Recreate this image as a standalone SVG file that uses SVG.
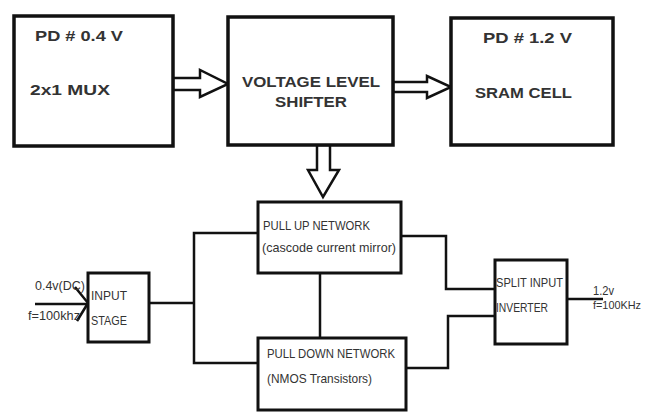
<svg xmlns="http://www.w3.org/2000/svg" width="645" height="412" viewBox="0 0 645 412">
<style>
.box{fill:#fff;stroke:#111;stroke-width:3.5}
.sbox{fill:#fff;stroke:#111;stroke-width:3}
.line{fill:none;stroke:#111;stroke-width:2.5}
.harrow{fill:#fff;stroke:#111;stroke-width:2.5;stroke-linejoin:miter}
.big{font-family:"Liberation Sans",Arial,sans-serif;font-weight:bold;font-size:15px;fill:#333}
.small{font-family:"Liberation Sans",Arial,sans-serif;font-size:13px;fill:#333}
</style>
<rect width="645" height="412" fill="#fff"/>
<g id="connectors">
<polygon class="harrow" points="173,78 200,78 200,70 228,84 200,97 200,90 173,90"/>
<polygon class="harrow" points="393,82 427,82 427,76 451,87 427,98 427,92 393,92"/>
<polygon class="harrow" points="317,145 317,170 308,170 323,197 339,170 330,170 330,145"/>
<polyline class="line" points="35,304 88,304"/>
<polyline class="line" points="75,287 88,303 77,321"/>
<polyline class="line" points="149,303 194,303"/>
<polyline class="line" points="258,233 194,233 194,363 258,363"/>
<polyline class="line" points="320,273 320,338"/>
<polyline class="line" points="401,236 446,236 446,289 495,289"/>
<polyline class="line" points="406,368 448,368 448,316 495,316"/>
<polyline class="line" points="567,299 603,299"/>
</g>
<g id="mux">
<rect class="box" x="14" y="16" width="159" height="130"/>
<text class="big" x="35" y="41" textLength="88" lengthAdjust="spacingAndGlyphs">PD # 0.4 V</text>
<text class="big" x="30" y="95" textLength="80" lengthAdjust="spacingAndGlyphs">2x1 MUX</text>
</g>
<g id="vls">
<rect class="box" x="228" y="17" width="165" height="128"/>
<text class="big" x="242" y="87" textLength="138" lengthAdjust="spacingAndGlyphs">VOLTAGE LEVEL</text>
<text class="big" x="275" y="107" textLength="72" lengthAdjust="spacingAndGlyphs">SHIFTER</text>
</g>
<g id="sram">
<rect class="box" x="451" y="18" width="162" height="127"/>
<text class="big" x="483" y="43" textLength="89" lengthAdjust="spacingAndGlyphs">PD # 1.2 V</text>
<text class="big" x="475" y="98" textLength="97" lengthAdjust="spacingAndGlyphs">SRAM CELL</text>
</g>
<g id="pullup">
<rect class="sbox" x="258" y="202" width="143" height="71"/>
<text class="small" x="263" y="230" textLength="107" lengthAdjust="spacingAndGlyphs">PULL UP NETWORK</text>
<text class="small" x="262" y="252" textLength="134" lengthAdjust="spacingAndGlyphs">(cascode current mirror)</text>
</g>
<g id="pulldown">
<rect class="sbox" x="258" y="338" width="148" height="72"/>
<text class="small" x="267" y="358" textLength="128" lengthAdjust="spacingAndGlyphs">PULL DOWN NETWORK</text>
<text class="small" x="267" y="383" textLength="105" lengthAdjust="spacingAndGlyphs">(NMOS Transistors)</text>
</g>
<g id="inputstage">
<rect class="sbox" x="88" y="273" width="61" height="69"/>
<text class="small" x="91" y="300" textLength="36" lengthAdjust="spacingAndGlyphs">INPUT</text>
<text class="small" x="91" y="325" textLength="36" lengthAdjust="spacingAndGlyphs">STAGE</text>
</g>
<g id="inputlabels">
<text class="small" x="35" y="290" textLength="50" lengthAdjust="spacingAndGlyphs">0.4v(DC)</text>
<text class="small" x="28" y="320" textLength="52" lengthAdjust="spacingAndGlyphs">f=100khz</text>
</g>
<g id="splitinverter">
<rect class="sbox" x="495" y="260" width="72" height="84"/>
<text class="small" x="496" y="287" textLength="67" lengthAdjust="spacingAndGlyphs">SPLIT INPUT</text>
<text class="small" x="496" y="312" textLength="52" lengthAdjust="spacingAndGlyphs">INVERTER</text>
</g>
<g id="outputlabels">
<text class="small" x="593" y="295" textLength="21" lengthAdjust="spacingAndGlyphs">1.2v</text>
<text class="small" x="593" y="309" style="font-size:11px" textLength="48" lengthAdjust="spacingAndGlyphs">f=100KHz</text>
</g>
</svg>
